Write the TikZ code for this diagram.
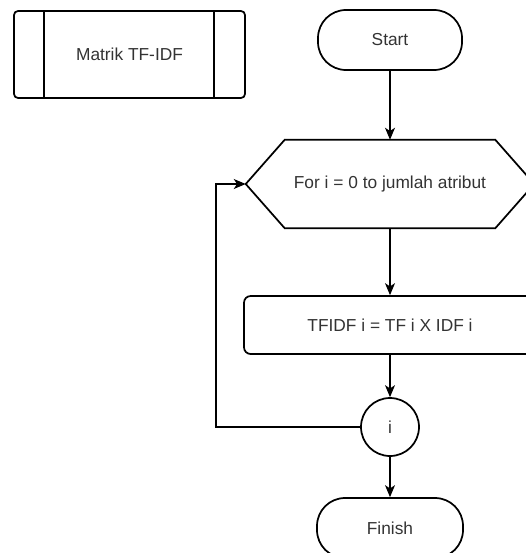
\documentclass[tikz,border=0pt]{standalone}
\usepackage{fontspec}
\setmainfont{Liberation Sans}
\usetikzlibrary{arrows.meta,calc}
\begin{document}
\begin{tikzpicture}[x=0.75pt,y=-0.75pt,
  every node/.style={font=\fontsize{13}{15.6}\selectfont, text=black!80, inner sep=0pt},
  shp/.style={draw=black, line width=1.3pt},
  conn/.style={draw=black, line width=0.8pt, -{Stealth[length=9pt,width=7.5pt,inset=2.5pt]}},
  line/.style={draw=black, line width=0.8pt}]
\useasboundingbox (0,0) rectangle (525,553);
% predefined process box
\node[shp, rounded corners=3pt, minimum width=173.25pt, minimum height=65.25pt] (mat) at (129.5,54.5) {Matrik TF-IDF};
\draw[shp] ($(mat.north west)+(31,0)$) -- ($(mat.south west)+(31,0)$);
\draw[shp] ($(mat.north east)+(-32,0)$) -- ($(mat.south east)+(-32,0)$);
% start
\node[shp, rounded corners=21pt, minimum width=108pt, minimum height=45pt] (start) at (390,40) {Start};
% hexagon
\node[minimum width=216pt, minimum height=66pt] (hex) at (390,184) {For i = 0 to jumlah atribut};
\draw[shp, line join=miter] (hex.west) -- ($(hex.north west)+(39,0)$) -- ($(hex.north east)+(-39,0)$) -- (hex.east) -- ($(hex.south east)+(-39,0)$) -- ($(hex.south west)+(39,0)$) -- cycle;
% process
\node[shp, rounded corners=5pt, minimum width=219pt, minimum height=43.5pt] (proc) at (390,325) {TFIDF i = TF i X IDF i};
% connector circle
\node[shp, circle, minimum size=43.5pt] (ci) at (390,427) {i};
% finish
\node[shp, rounded corners=21pt, minimum width=109.5pt, minimum height=45pt] (fin) at (390,528) {Finish};
% connectors
\draw[conn] (start) -- (hex.north);
\draw[conn] (hex.south) -- (proc);
\draw[conn] (proc) -- (ci);
\draw[conn] (ci) -- (fin);
\coordinate (lp) at (216,427);
\draw[conn] (ci.west) -- (lp) |- (hex.west);
\end{tikzpicture}
\end{document}
